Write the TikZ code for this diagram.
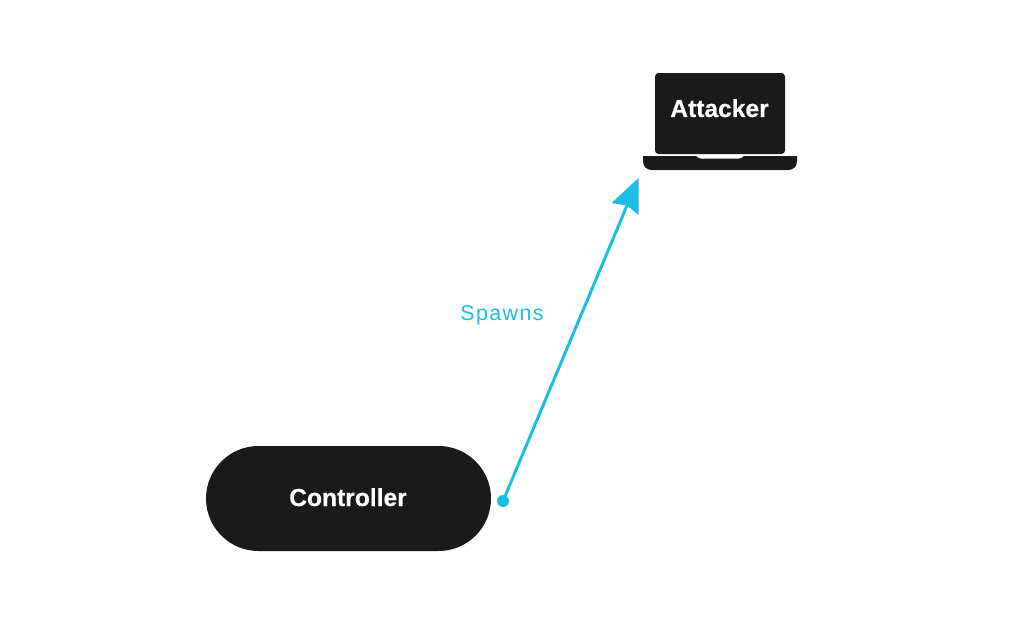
\documentclass[tikz,border=0pt]{standalone}
\usepackage{fontspec}
\setmainfont{Liberation Sans}
\newfontfamily\boldlabel[BoldFeatures={FakeBold=0.4}]{Liberation Sans}
\newfontfamily\spacedlabel[LetterSpace=6.5]{Liberation Sans}
\usetikzlibrary{calc}
\definecolor{ink}{HTML}{1A1A1A}
\definecolor{sky}{HTML}{1BBFE3}
\tikzset{
  pill/.style={fill=ink,draw=none,rounded corners=52.5pt,minimum width=285pt,minimum height=105pt,inner sep=0pt},
  nodetext/.style={text=white,font=\boldlabel\bfseries\fontsize{24.6}{24.6}\selectfont,inner sep=0pt},
  flow/.style={draw=sky,line width=3pt},
  flowlabel/.style={text=sky,font=\spacedlabel\fontsize{21.4}{21.4}\selectfont,inner sep=0pt}
}
\begin{document}
\begin{tikzpicture}[x=1pt,y=-1pt]
\useasboundingbox (0,0) rectangle (1024,627);
\fill[white] (0,0) rectangle (1024,627);
% laptop
\fill[ink,rounded corners=3.5pt] (655,73) rectangle (785,154);
\fill[ink] (643,156) -- (696,156) .. controls (698,158) and (699,158.5) .. (701,158.5) -- (739,158.5) .. controls (741,158.5) and (742,158) .. (744,156) -- (797,156) -- (797,161)
  .. controls (797,167) and (793,170) .. (788,170) -- (652,170) .. controls (647,170) and (643,167) .. (643,161) -- cycle;
\node[nodetext] (attacker) at (719.5,108.2) {Attacker};
% controller
\node[pill] (controller) at (348.5,498.5) {};
\node[nodetext] (controllertext) at (348,497.2) {Controller};
% connector
\coordinate (start) at (503,501);
\coordinate (tip) at (638.5,178);
\coordinate (neck) at (627,205.5);
\draw[flow] (start) -- (neck);
\fill[sky] (start) circle (6pt);
\fill[sky] (tip) -- (611.5,203) -- (neck) -- (638.5,215) -- cycle;
\node[flowlabel] (spawns) at (502,315.5) {Spawns};
\end{tikzpicture}
\end{document}
